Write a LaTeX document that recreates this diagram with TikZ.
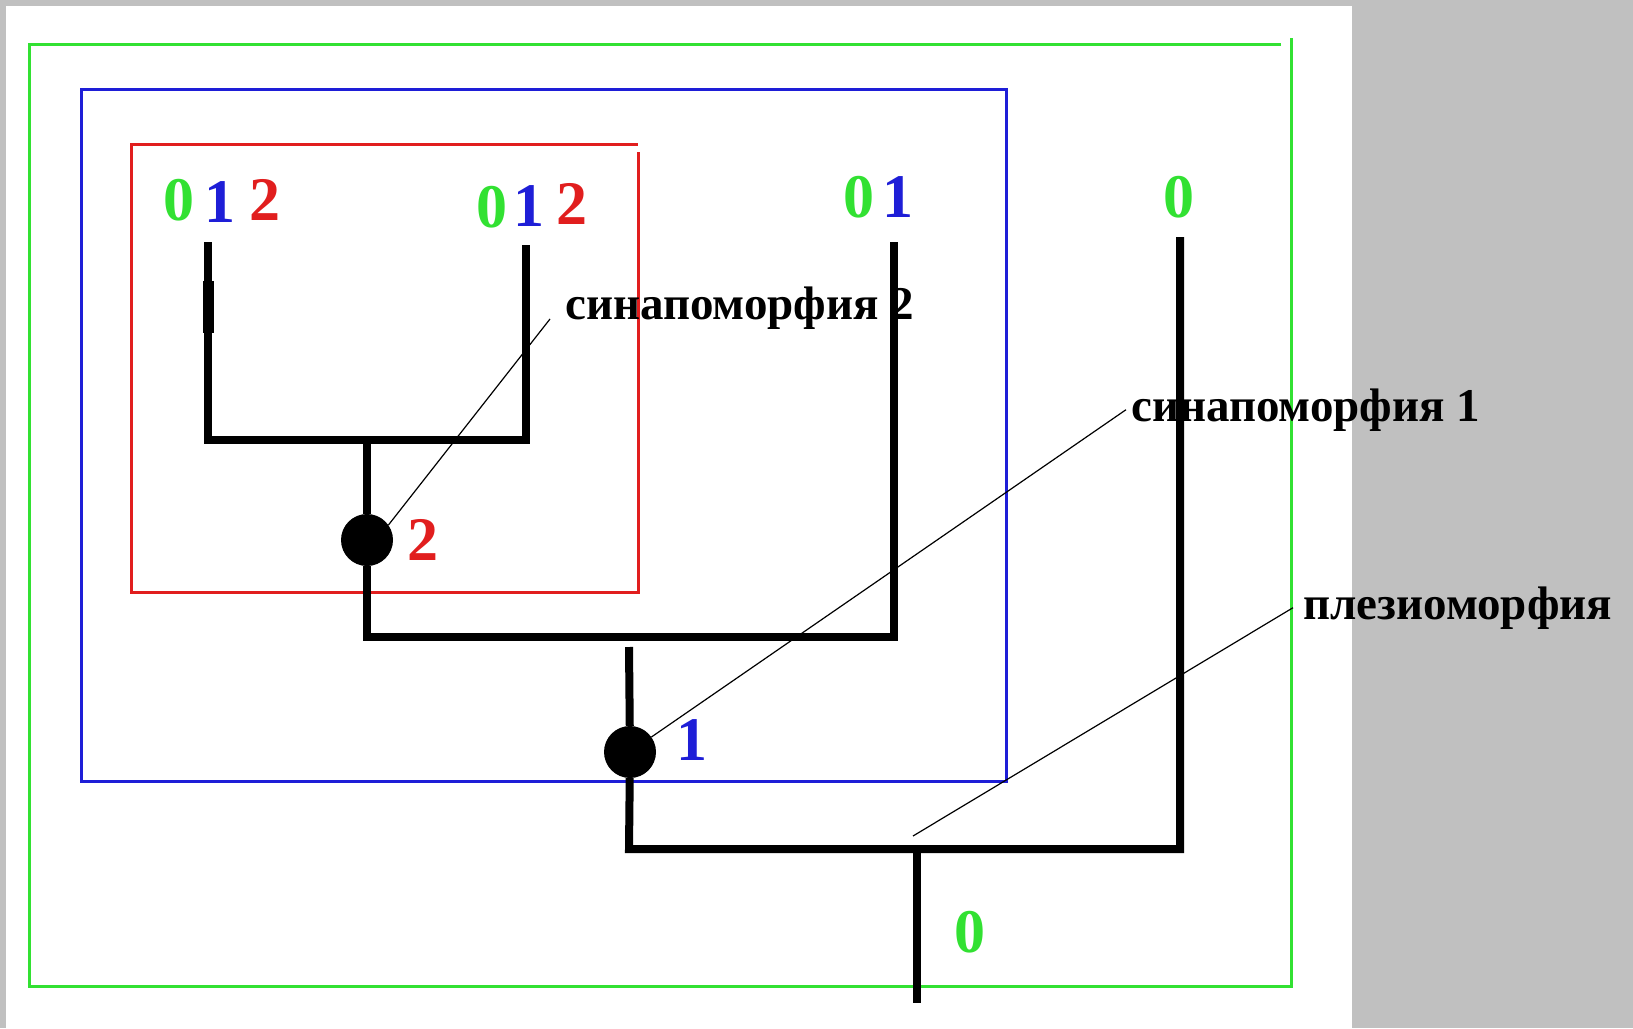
\documentclass[tikz,border=0pt]{standalone}
\usepackage{fontspec}
\setmainfont{Liberation Serif}
\usetikzlibrary{positioning}
\definecolor{bggray}{RGB}{192,192,192}
\definecolor{plgreen}{RGB}{50,225,50}
\definecolor{plblue}{RGB}{30,30,215}
\definecolor{plred}{RGB}{225,30,30}

\begin{document}
\begin{tikzpicture}[x=1pt,y=-1pt,
    branch/.style={line width=8pt},
    clade/.style={line width=3pt},
    state/.style={font=\fontsize{62}{62}\selectfont\bfseries, anchor=base, inner sep=0pt},
    term/.style={font=\fontsize{47}{47}\selectfont\bfseries, anchor=base west, inner ysep=0pt, inner xsep=10pt},
    dot/.style={circle, fill=black, minimum size=52pt, inner sep=0pt},
    leader/.style={line width=1.2pt}]
    % Page and white sheet
    \fill[bggray] (0,0) rectangle (1633,1028);
    \useasboundingbox (0,0) rectangle (1633,1028);
    \fill[white] (6,6) rectangle (1352,1028);

    % Nested groups
    \draw[clade, plgreen] (1281,44) -- (29,44) -- (29,986) -- (1291,986) -- (1291,38);
    \draw[clade, plblue] (81,89) rectangle (1006,781);
    \draw[clade, plred] (638,152) -- (638,592) -- (131,592) -- (131,144) -- (638,144);

    % Tips, joints and root
    \coordinate (leafA) at (208,242);
    \coordinate (leafB) at (526,245);
    \coordinate (leafC) at (894,242);
    \coordinate (leafD) at (1180,237);
    \coordinate (k2) at (367,440);
    \coordinate (k1) at (629,647);
    \coordinate (k0) at (917,849);
    \coordinate (root) at (917,1003);
    \node[dot] (dot2) at (367,540) {};
    \node[dot] (dot1) at (630,752) {};

    % Branches
    \draw[branch] (leafA) |- (k2) -| (leafB);
    \draw[line width=11pt] (208,281) -- (208,333);
    \draw[branch] (k2) -- (dot2) -- (367,637) -| (leafC);
    \draw[branch] (k1) -- (dot1) -- (k1 |- k0) -| (leafD);
    \draw[branch] (k0) -- (root);

    % Character states at the tips
    \node[state, plgreen] (a0) at (179,220) {0};
    \node[state, plblue] (a1) at (220,222) {1};
    \node[state, plred] (a2) at (265,220) {2};
    \node[state, plgreen] (b0) at (492,227) {0};
    \node[state, plblue] (b1) at (529,226) {1};
    \node[state, plred] (b2) at (572,224) {2};
    \node[state, plgreen] (c0) at (859,217) {0};
    \node[state, plblue] (c1) at (898,217) {1};
    \node[state, plgreen] (d0) at (1179,217) {0};
    % States at the nodes
    \node[state, plred] (n2) at (423,560) {2};
    \node[state, plblue] (n1) at (692,760) {1};
    \node[state, plgreen] (n0) at (970,952) {0};

    % Terms
    \node[term, inner xsep=15pt] (syn2) at (550,319) {синапоморфия 2};
    \node[term, inner xsep=5pt] (syn1) at (1126,421) {синапоморфия 1};
    \node[term] (plesio) at (1293,619) {плезиоморфия};
    \coordinate (plesioEnd) at (913,836);
    \draw[leader] (syn2.base west) -- (dot2.35);
    \draw[leader] (syn1.west) -- (dot1.35);
    \draw[leader] (plesio.west) -- (plesioEnd);
\end{tikzpicture}
\end{document}
